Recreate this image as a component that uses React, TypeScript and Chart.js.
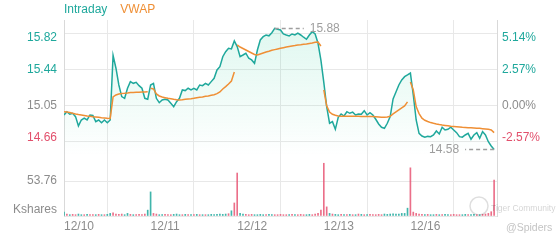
import React, { useEffect, useRef } from 'react';
import { Chart, registerables } from 'chart.js';

Chart.register(...registerables);

const FONT = '"Liberation Sans", Arial, Helvetica, sans-serif';
const TEAL = '#1fa89c';
const ORANGE = '#ef8f35';
const RED = '#e2506c';
const GRAY = '#8c8c8c';
const GRID = '#e8e8e8';
const BORDER = '#d9d9d9';

// ---- data ----
const dayLabels = ['12/10', '12/11', '12/12', '12/13', '12/16'];
const priceTicks = [14.66, 15.05, 15.44, 15.82];
const pctTicks = ['-2.57%', '0.00%', '2.57%', '5.14%'];
const prevClose = 15.05;
const volTicks = [0, 53.76];
const volUnit = 'Kshares';
const priceRange = [14.52, 15.97];
const volRange = [0, 93.7];

const intraday = [
  14.950, 14.985, 14.958, 14.968, 14.932, 14.832, 14.896, 14.915, 14.896, 14.950,
  14.945, 14.878, 14.896, 14.867, 14.896, 14.867, 14.896, 15.590, 15.452, 15.272,
  15.147, 15.129, 15.237, 15.308, 15.290, 15.301, 15.265, 15.237, 15.129, 15.119,
  15.272, 15.290, 15.129, 15.082, 15.111, 15.119, 15.111, 15.076, 15.039, 15.093,
  15.129, 15.219, 15.212, 15.237, 15.219, 15.237, 15.219, 15.272, 15.265, 15.290,
  15.272, 15.308, 15.344, 15.433, 15.469, 15.576, 15.630, 15.666, 15.660, 15.745,
  15.684, 15.576, 15.594, 15.613, 15.559, 15.541, 15.505, 15.648, 15.756, 15.791,
  15.809, 15.800, 15.834, 15.880, 15.870, 15.863, 15.820, 15.809, 15.799, 15.820,
  15.809, 15.828, 15.809, 15.785, 15.763, 15.809, 15.845, 15.820, 15.720, 15.540,
  15.300, 15.039, 14.861, 14.878, 14.796, 14.925, 14.961, 14.939, 14.985, 14.968,
  14.980, 14.950, 14.961, 14.958, 14.996, 14.950, 14.975, 14.950, 14.904, 14.853,
  14.818, 14.807, 14.861, 14.932, 15.122, 15.197, 15.272, 15.326, 15.361, 15.380,
  15.400, 15.165, 14.896, 14.753, 14.724, 14.711, 14.720, 14.717, 14.735, 14.778,
  14.746, 14.818, 14.789, 14.796, 14.818, 14.789, 14.760, 14.717, 14.711, 14.735,
  14.753, 14.689, 14.735, 14.760, 14.700, 14.771, 14.735, 14.663, 14.617, 14.580,
];

const vwap = [
  14.985, 14.982, 14.977, 14.968, 14.961, 14.955, 14.950, 14.945, 14.939, 14.936,
  14.932, 14.929, 14.925, 14.921, 14.918, 14.915, 14.913, 15.143, 15.165, 15.176,
  15.181, 15.183, 15.186, 15.190, 15.192, 15.194, 15.195, 15.197, 15.198, 15.199,
  15.237, 15.229, 15.176, 15.154, 15.143, 15.136, 15.129, 15.125, 15.119, 15.114,
  15.111, 15.114, 15.119, 15.122, 15.125, 15.129, 15.136, 15.140, 15.143, 15.151,
  15.154, 15.162, 15.168, 15.179, 15.197, 15.229, 15.254, 15.283, 15.315, 15.412,
  15.702, 15.680, 15.664, 15.648, 15.632, 15.616, 15.600, 15.594, 15.605, 15.616,
  15.627, 15.635, 15.645, 15.652, 15.659, 15.666, 15.673, 15.680, 15.686, 15.691,
  15.696, 15.702, 15.705, 15.709, 15.713, 15.718, 15.723, 15.731, 15.734, 15.691,
  15.219, 15.047, 14.982, 14.958, 14.947, 14.939, 14.937, 14.936, 14.936, 14.935,
  14.935, 14.935, 14.935, 14.934, 14.934, 14.934, 14.934, 14.933, 14.932, 14.929,
  14.925, 14.925, 14.929, 14.936, 14.961, 14.982, 15.004, 15.025, 15.047, 15.090,
  15.304, 15.219, 15.040, 14.965, 14.915, 14.893, 14.880, 14.868, 14.860, 14.853,
  14.847, 14.842, 14.838, 14.834, 14.830, 14.827, 14.824, 14.821, 14.818, 14.816,
  14.814, 14.812, 14.810, 14.808, 14.806, 14.803, 14.800, 14.796, 14.789, 14.760,
];

const volume = [
  6, 3, 2, 2.5, 2, 3, 2, 2, 2.5, 2, 2, 2, 2.5, 2, 2, 2.5, 4, 5, 3, 2.5, 3, 2, 4, 2.5, 2, 2, 2.5, 2, 3, 9,
  37, 4, 3, 2, 2, 2.5, 2, 2, 2.5, 3, 2, 2, 2.5, 2, 2, 2, 2.5, 2, 2, 2, 2, 2.5, 2, 2.5, 3, 2.5, 3, 3.5, 8, 20,
  66, 4, 3, 2.5, 2, 2.5, 2, 2, 2.5, 2, 2, 2.5, 2, 2, 2, 2.5, 2, 2, 2, 2.5, 2, 2, 2.5, 2, 2, 2.5, 2, 3, 4, 9,
  81, 14, 4, 3, 2.5, 2, 2.5, 2, 2, 2.5, 2, 2, 3, 2.5, 2, 2, 2.5, 2, 2, 2.5, 2, 3, 2.5, 3, 3.5, 3, 3, 4, 4, 12,
  74, 6, 4, 3, 2.5, 2, 2.5, 2, 2, 2.5, 2, 2, 2.5, 2, 2, 2.5, 2, 2, 2, 2.5, 2, 2, 2.5, 2, 2, 2.5, 3, 4, 6.6, 55,
];

const perDay = intraday.length / dayLabels.length;

const volColors = volume.map((_, i) => {
  const last = intraday.length - 1;
  const cur = i < last ? intraday[i] : intraday[i - 1];
  const next = i < last ? intraday[i + 1] : intraday[i];
  return next < cur ? 'rgba(232,86,116,0.85)' : 'rgba(31,168,156,0.85)';
});

const overlayPlugin = {
  id: 'overlay',
  afterDraw(chart: any) {
    const { ctx, chartArea, scales } = chart;
    const ys = scales.y;
    const yv = scales.yv;
    const xs = scales.x;
    ctx.save();
    ctx.font = `12px ${FONT}`;
    ctx.textBaseline = 'middle';

    // legend
    let lx = chartArea.left;
    ctx.textAlign = 'left';
    chart.data.datasets.slice().reverse().forEach((d: any) => {
      if (d.type !== 'line') return;
      ctx.fillStyle = d.borderColor;
      ctx.fillText(d.label, lx, 10);
      lx += ctx.measureText(d.label).width + 13;
    });

    // price + percent labels
    priceTicks.forEach((v, i) => {
      let py = ys.getPixelForValue(v);
      if (i === priceTicks.length - 1) py += 3.5;
      if (i === 0) py -= 4.5;
      ctx.fillStyle = v > prevClose + 1e-9 ? TEAL : v < prevClose - 1e-9 ? RED : GRAY;
      ctx.textAlign = 'right';
      ctx.fillText(v.toFixed(2), chartArea.left - 7, py);
      ctx.textAlign = 'left';
      ctx.fillText(pctTicks[i], chartArea.right + 5, py);
    });

    // volume labels
    ctx.fillStyle = GRAY;
    ctx.textAlign = 'right';
    ctx.fillText(volTicks[1].toFixed(2), chartArea.left - 7, yv.getPixelForValue(volTicks[1]));
    ctx.fillText(volUnit, chartArea.left - 7, yv.bottom - 6);

    // high / low markers
    let maxI = 0;
    let minI = 0;
    intraday.forEach((v, i) => {
      if (v > intraday[maxI]) maxI = i;
      if (v < intraday[minI]) minI = i;
    });
    [maxI, minI].forEach((i) => {
      const px = xs.getPixelForValue(i);
      const py = ys.getPixelForValue(intraday[i]);
      const dir = px + 75 < chartArea.right ? 1 : -1;
      ctx.strokeStyle = '#9e9e9e';
      ctx.lineWidth = 1.5;
      ctx.setLineDash([4, 3]);
      ctx.beginPath();
      ctx.moveTo(px, py);
      ctx.lineTo(px + dir * 29, py);
      ctx.stroke();
      ctx.setLineDash([]);
      ctx.fillStyle = '#9e9e9e';
      ctx.textAlign = dir > 0 ? 'left' : 'right';
      ctx.fillText(intraday[i].toFixed(2), px + dir * 35, py);
    });

    // watermark
    ctx.strokeStyle = 'rgba(0,0,0,0.13)';
    ctx.lineWidth = 1.5;
    ctx.beginPath();
    ctx.arc(479, 206, 9, 0, Math.PI * 2);
    ctx.stroke();
    ctx.font = `8.5px ${FONT}`;
    ctx.fillStyle = 'rgba(0,0,0,0.18)';
    ctx.textAlign = 'left';
    ctx.fillText('Tiger Community', 491, 208.5);
    ctx.font = `10.5px ${FONT}`;
    ctx.fillStyle = '#c4c4c4';
    ctx.fillText('@Spiders', 506, 228);
    ctx.restore();
  },
};

export default function App() {
  const ref = useRef<HTMLCanvasElement>(null);
  useEffect(() => {
    const canvas = ref.current;
    if (!canvas) return;
    Chart.defaults.font.family = FONT;
    Chart.defaults.font.size = 12;
    const chart = new Chart(canvas, {
      type: 'line',
      data: {
        datasets: [
          {
            type: 'line',
            label: 'VWAP',
            data: vwap.map((y, i) => ({ x: i, y })),
            yAxisID: 'y',
            borderColor: ORANGE,
            borderWidth: 1.5,
            pointRadius: 0,
            fill: false,
            tension: 0,
            order: 1,
            segment: {
              borderColor: (c: any) => (c.p1DataIndex % perDay === 0 ? 'rgba(0,0,0,0)' : ORANGE),
            },
          } as any,
          {
            type: 'line',
            label: 'Intraday',
            data: intraday.map((y, i) => ({ x: i, y })),
            yAxisID: 'y',
            borderColor: TEAL,
            borderWidth: 1.5,
            pointRadius: 0,
            tension: 0,
            fill: 'start',
            order: 2,
            backgroundColor: (c: any) => {
              const s = c.chart.scales.y;
              const fallback = 'rgba(60,210,160,0.1)';
              if (!s || !Number.isFinite(s.top) || !Number.isFinite(s.bottom) || s.bottom <= s.top) return fallback;
              const g = c.chart.ctx.createLinearGradient(0, s.top, 0, s.bottom);
              g.addColorStop(0, 'rgba(60,210,160,0.17)');
              g.addColorStop(0.8, 'rgba(60,210,160,0.04)');
              g.addColorStop(1, 'rgba(60,210,160,0)');
              return g;
            },
          } as any,
          {
            type: 'bar',
            label: 'Volume',
            data: volume.map((y, i) => ({ x: i, y })),
            yAxisID: 'yv',
            backgroundColor: volColors,
            barThickness: 1,
            order: 3,
          } as any,
        ],
      },
      options: {
        animation: false,
        responsive: false,
        devicePixelRatio: 1,
        events: [],
        layout: { padding: { top: 20, left: 0, right: 0, bottom: 0 } },
        plugins: { legend: { display: false }, tooltip: { enabled: false } },
        scales: {
          x: {
            type: 'linear',
            min: 0,
            max: intraday.length,
            offset: false,
            afterBuildTicks: (s: any) => {
              s.ticks = dayLabels.map((_, d) => ({ value: d * perDay }));
            },
            ticks: {
              callback: (_v: any, i: number) => dayLabels[i],
              align: 'start',
              autoSkip: false,
              maxRotation: 0,
              color: GRAY,
              padding: 3,
              font: { size: 12 },
            },
            grid: { color: GRID, drawTicks: false },
            border: { color: GRID },
            afterFit: (s: any) => {
              s.height = 24;
            },
          },
          y: {
            type: 'linear',
            position: 'left',
            stack: 'left',
            stackWeight: 135,
            weight: 1,
            min: priceRange[0],
            max: priceRange[1],
            afterBuildTicks: (s: any) => {
              s.ticks = priceTicks.map((value) => ({ value }));
            },
            ticks: { display: false },
            grid: { color: GRID, drawTicks: false },
            border: { color: BORDER },
            afterFit: (s: any) => {
              s.width = 64;
            },
          },
          yv: {
            type: 'linear',
            position: 'left',
            stack: 'left',
            stackWeight: 61,
            weight: 0,
            min: volRange[0],
            max: volRange[1],
            afterBuildTicks: (s: any) => {
              s.ticks = volTicks.map((value) => ({ value }));
            },
            ticks: { display: false },
            grid: { color: GRID, drawTicks: false },
            border: { color: BORDER },
            afterFit: (s: any) => {
              s.width = 64;
            },
          },
          yr: {
            type: 'linear',
            position: 'right',
            stack: 'right',
            stackWeight: 135,
            weight: 0,
            min: priceRange[0],
            max: priceRange[1],
            ticks: { display: false },
            grid: { display: false },
            border: { color: BORDER },
            afterFit: (s: any) => {
              s.width = 63;
            },
          },
          yrv: {
            type: 'linear',
            position: 'right',
            stack: 'right',
            stackWeight: 61,
            weight: 1,
            min: volRange[0],
            max: volRange[1],
            ticks: { display: false },
            grid: { display: false },
            border: { color: BORDER },
            afterFit: (s: any) => {
              s.width = 63;
            },
          },
        } as any,
      },
      plugins: [overlayPlugin],
    } as any);
    return () => chart.destroy();
  }, []);
  return (
    <div style={{ position: 'fixed', left: 0, top: 0, width: 560, height: 240, background: '#fff' }}>
      <canvas ref={ref} width={560} height={240} style={{ display: 'block', width: 560, height: 240 }} />
    </div>
  );
}
